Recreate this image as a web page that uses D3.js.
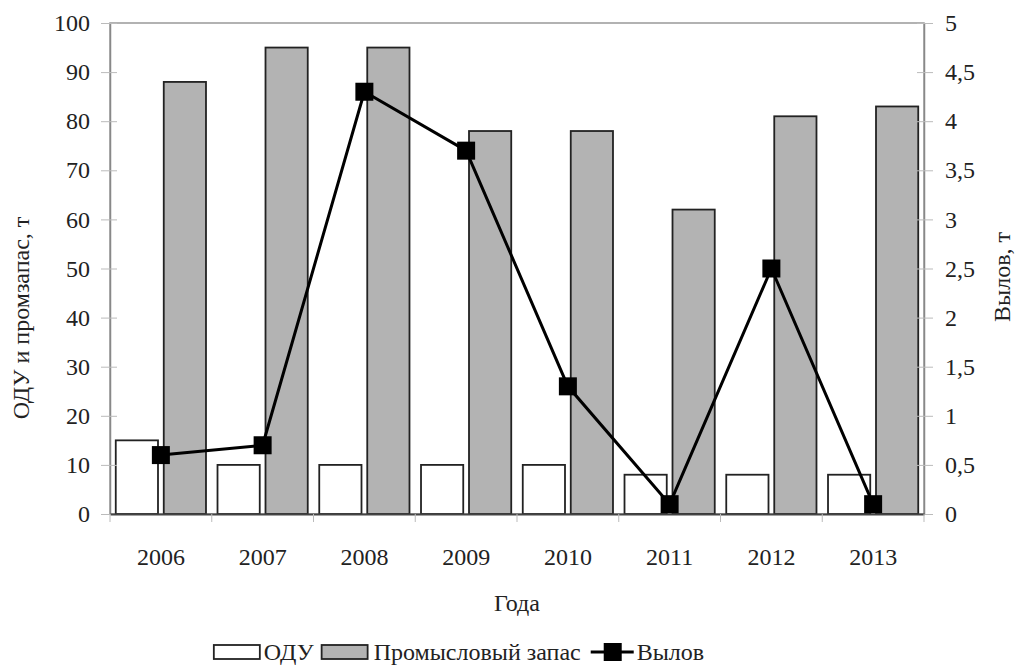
<!DOCTYPE html>
<html>
<head>
<meta charset="utf-8">
<script src="https://cdn.jsdelivr.net/npm/d3@7"></script>
<style>
  body { margin: 0; background: #fff; }
  svg text { fill: #222; }
</style>
</head>
<body>
<svg id="chart" width="1015" height="668"></svg>
<script>
const years = ["2006", "2007", "2008", "2009", "2010", "2011", "2012", "2013"];
const odu = [15, 10, 10, 10, 10, 8, 8, 8];
const stock = [88, 95, 95, 78, 78, 62, 81, 83];
const catchT = [0.6, 0.7, 4.3, 3.7, 1.3, 0.1, 2.5, 0.1];
const leftTicks = [0, 10, 20, 30, 40, 50, 60, 70, 80, 90, 100];
const rightTicks = [0, 0.5, 1, 1.5, 2, 2.5, 3, 3.5, 4, 4.5, 5];

const font = "'Times New Roman', Times, Tinos, 'Liberation Serif', 'Noto Serif', FreeSerif, 'DejaVu Serif', serif";
const svg = d3.select("#chart").attr("font-family", font);
const m = { left: 110, right: 924, top: 23, bottom: 514 };

// pick a font size so that a sample string has the reference width
function fit(str, w) {
  const t = svg.append("text").attr("font-size", 20).text(str);
  const len = t.node().getComputedTextLength();
  t.remove();
  return 20 * w / len;
}
const tickSize = fit("2006", 48);
const titleSize = tickSize;

const x = d3.scaleBand().domain(years).range([m.left, m.right]);
const inner = d3.scaleBand().domain(["odu", "stock"])
  .range([0, x.bandwidth()]).paddingInner(0.12).paddingOuter(0.12);
const yL = d3.scaleLinear().domain([0, 100]).range([m.bottom, m.top]);
const yR = d3.scaleLinear().domain([0, 5]).range([m.bottom, m.top]);

// plot frame
svg.append("rect")
  .attr("x", m.left).attr("y", m.top)
  .attr("width", m.right - m.left).attr("height", m.bottom - m.top)
  .attr("fill", "none").attr("stroke", "#999").attr("stroke-width", 1.5);

// bars
const g = svg.append("g");
g.selectAll("rect.odu").data(years).join("rect")
  .attr("class", "odu")
  .attr("x", d => x(d) + inner("odu"))
  .attr("width", inner.bandwidth())
  .attr("y", (d, i) => yL(odu[i]))
  .attr("height", (d, i) => yL(0) - yL(odu[i]))
  .attr("fill", "#fff").attr("stroke", "#222").attr("stroke-width", 1.8);

g.selectAll("rect.stock").data(years).join("rect")
  .attr("class", "stock")
  .attr("x", d => x(d) + inner("stock"))
  .attr("width", inner.bandwidth())
  .attr("y", (d, i) => yL(stock[i]))
  .attr("height", (d, i) => yL(0) - yL(stock[i]))
  .attr("fill", "#b3b3b3").attr("stroke", "#222").attr("stroke-width", 1.8);

// axes
const axL = d3.axisLeft(yL).tickValues(leftTicks).tickSize(0).tickPadding(20);
const gl = svg.append("g").attr("transform", `translate(${m.left},0)`).call(axL)
  .attr("font-family", font);
gl.select(".domain").attr("stroke", "#888").attr("stroke-width", 1.5);
gl.selectAll(".tick text").attr("font-size", tickSize);
gl.selectAll(".tick").append("line").attr("x1", -9).attr("x2", 7).attr("stroke", "#bbb");

const axR = d3.axisRight(yR).tickValues(rightTicks).tickSize(0).tickPadding(21)
  .tickFormat(d => String(d).replace(".", ","));
const gr = svg.append("g").attr("transform", `translate(${m.right},0)`).call(axR)
  .attr("font-family", font);
gr.select(".domain").attr("stroke", "#888").attr("stroke-width", 1.5);
gr.selectAll(".tick text").attr("font-size", tickSize);
gr.selectAll(".tick").append("line").attr("x1", -7).attr("x2", 9).attr("stroke", "#bbb");

const axB = d3.axisBottom(x).tickSize(0);
const gb = svg.append("g").attr("transform", `translate(0,${m.bottom})`).call(axB)
  .attr("font-family", font);
gb.select(".domain").attr("stroke", "#444").attr("stroke-width", 2);
gb.selectAll(".tick text").attr("font-size", tickSize).attr("dy", "0").attr("y", 51);
gb.selectAll("line.sep").data(years.concat("end")).join("line")
  .attr("class", "sep")
  .attr("x1", (d, i) => m.left + i * x.step()).attr("x2", (d, i) => m.left + i * x.step())
  .attr("y1", 0).attr("y2", 8).attr("stroke", "#bbb");

// catch line
const cx = d => x(d) + x.bandwidth() / 2;
const line = d3.line().x(d => cx(d)).y((d, i) => yR(catchT[i]));
svg.append("path").datum(years)
  .attr("d", line)
  .attr("fill", "none").attr("stroke", "#000").attr("stroke-width", 3);
svg.selectAll("rect.mk").data(years).join("rect")
  .attr("class", "mk")
  .attr("x", d => cx(d) - 9).attr("y", (d, i) => yR(catchT[i]) - 9)
  .attr("width", 18).attr("height", 18).attr("fill", "#000");

// axis titles
svg.append("text")
  .attr("transform", "translate(29,318) rotate(-90)")
  .attr("text-anchor", "middle").attr("font-size", titleSize)
  .text("ОДУ и промзапас, т");
svg.append("text")
  .attr("transform", "translate(1010,277) rotate(-90)")
  .attr("text-anchor", "middle").attr("font-size", titleSize)
  .text("Вылов, т");
svg.append("text")
  .attr("x", (m.left + m.right) / 2).attr("y", 611)
  .attr("text-anchor", "middle").attr("font-size", titleSize)
  .text("Года");

// legend, laid out left to right from measured text widths, then centred
const leg = svg.append("g");
let lx = 0;
function legText(str) {
  const t = leg.append("text").attr("x", lx).attr("y", 8).attr("font-size", titleSize).text(str);
  lx += t.node().getComputedTextLength();
}
leg.append("rect").attr("x", lx).attr("y", -7).attr("width", 46).attr("height", 14)
  .attr("fill", "#fff").attr("stroke", "#222").attr("stroke-width", 1.8);
lx += 50;
legText("ОДУ");
lx += 8;
leg.append("rect").attr("x", lx).attr("y", -7).attr("width", 46).attr("height", 14)
  .attr("fill", "#b3b3b3").attr("stroke", "#222").attr("stroke-width", 1.8);
lx += 52;
legText("Промысловый запас");
lx += 10;
leg.append("line").attr("x1", lx).attr("x2", lx + 43).attr("y1", 0).attr("y2", 0)
  .attr("stroke", "#000").attr("stroke-width", 3);
leg.append("rect").attr("x", lx + 13).attr("y", -9).attr("width", 18).attr("height", 18).attr("fill", "#000");
lx += 46;
legText("Вылов");
leg.attr("transform", `translate(${459 - lx / 2},652)`);
</script>
</body>
</html>
